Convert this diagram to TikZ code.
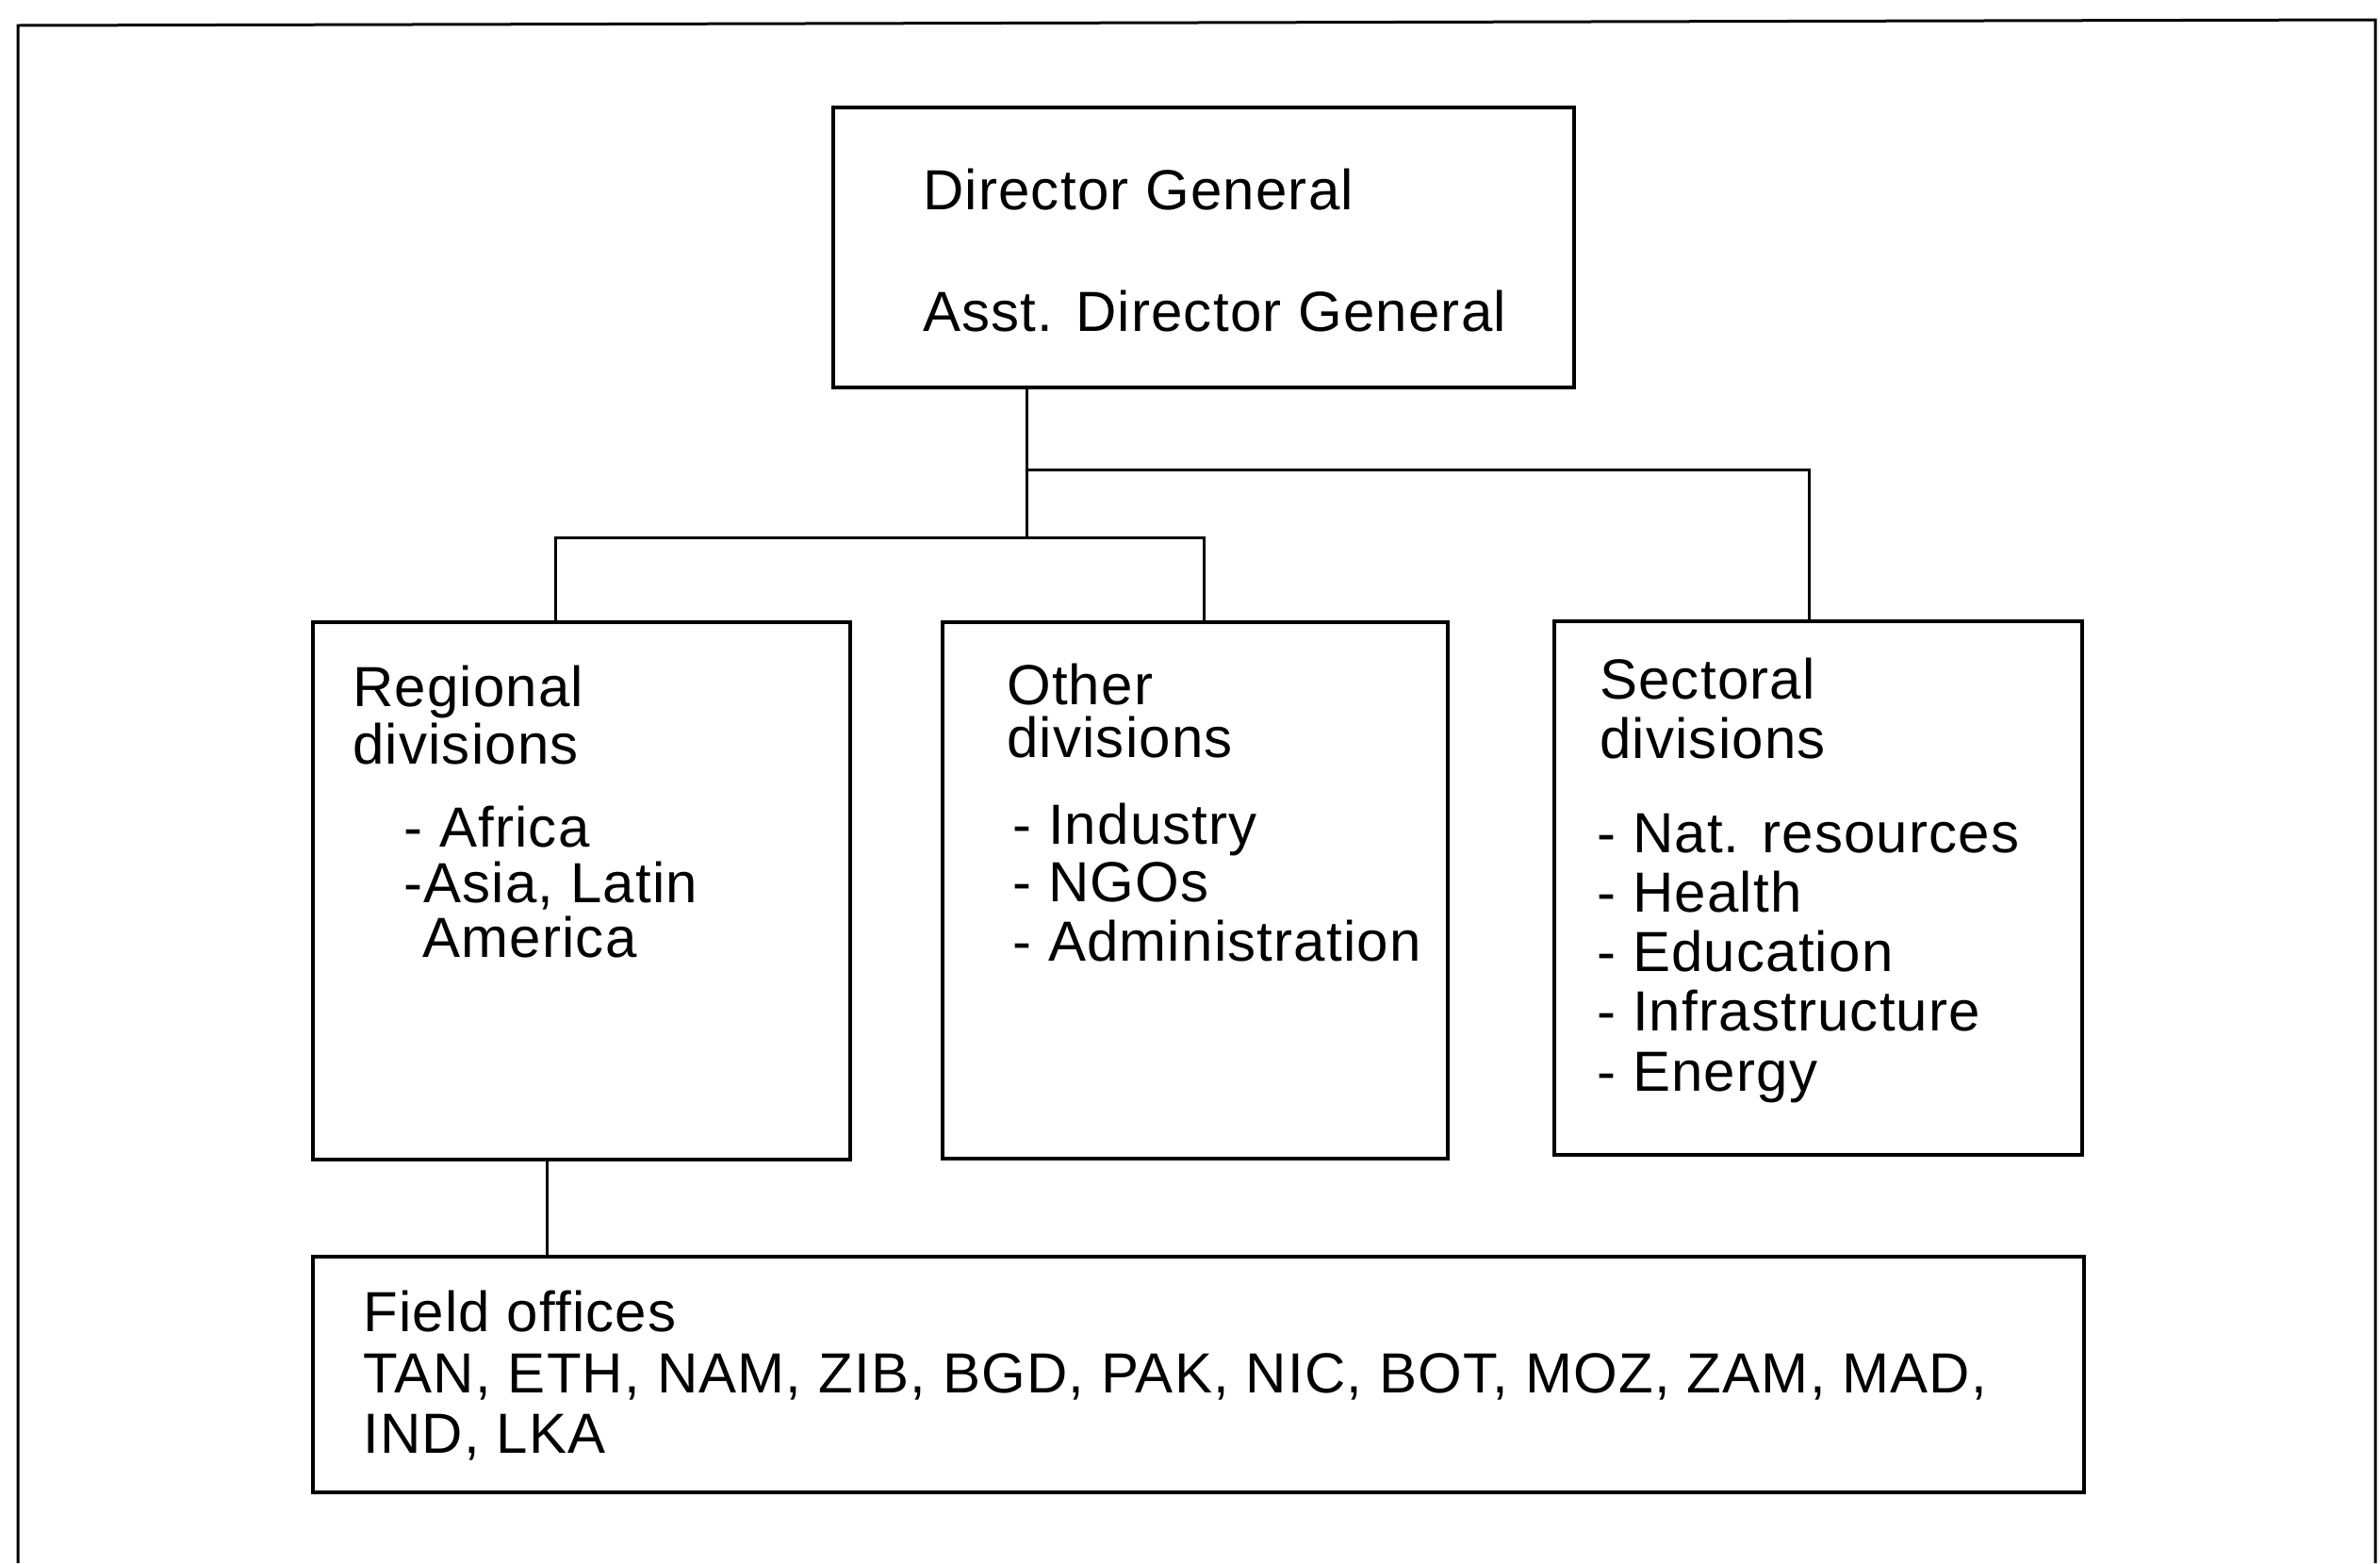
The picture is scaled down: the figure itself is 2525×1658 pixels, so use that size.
\documentclass[tikz,border=0pt]{standalone}
\usepackage{fontspec}
\setmainfont{Liberation Sans}[LetterSpace=2]
\begin{document}
\begin{tikzpicture}[x=1pt,y=-1pt,
  box/.style={draw, line width=3.5pt, inner sep=0pt},
  txt/.style={anchor=base west, inner sep=0pt, font=\fontsize{60}{72}\selectfont},
  link/.style={line width=3pt},
  frameline/.style={line width=3pt}]
\useasboundingbox (0,0) rectangle (2525,1658);

% page frame (open at the bottom)
\draw[frameline] (19,1658) -- (19,27) -- (2520,21) -- (2520,1658);

% boxes
\node[box, minimum width=786pt, minimum height=297pt] (top)  at (1277,262.5) {};
\node[box, minimum width=570pt, minimum height=570pt] (reg)  at (617,945) {};
\node[box, minimum width=536pt, minimum height=569pt] (oth)  at (1268,944.5) {};
\node[box, minimum width=560pt, minimum height=566pt] (sect) at (1929,942) {};
\node[box, minimum width=1879pt, minimum height=250pt] (fld) at (1271.5,1458) {};

% junction points of the connectors
\coordinate (j1) at (1089,498);
\coordinate (j2) at (1089,570);
\coordinate (r1) at (1919,498);
\coordinate (l1) at (589,570);
\coordinate (l2) at (1277,570);
\coordinate (f1) at (580,1280);

% connectors
\draw[link] (top.south -| j2) -- (j2);
\draw[link] (j1) -- (r1) -- (r1 |- sect.north);
\draw[link] (l1 |- reg.north) -- (l1) -- (l2) -- (l2 |- oth.north);
\draw[link] (reg.south -| f1) -- (fld.north -| f1);

% top box
\node[txt] (dg)  at (979,222) {Director General};
\node[txt] (adg) at (979,351) {Asst. Director General};

% regional divisions
\node[txt] (reg1) at (374,749)  {Regional};
\node[txt] (reg2) at (374,810)  {divisions};
\node[txt] (reg3) at (428,898)  {- Africa};
\node[txt] (reg4) at (428,957)  {-Asia, Latin};
\node[txt] (reg5) at (448,1015) {America};

% other divisions
\node[txt] (oth1) at (1068,747)  {Other};
\node[txt] (oth2) at (1068,803)  {divisions};
\node[txt] (oth3) at (1074,895)  {- Industry};
\node[txt] (oth4) at (1074,956)  {- NGOs};
\node[txt] (oth5) at (1074,1019) {- Administration};

% sectoral divisions
\node[txt] (sec1) at (1697,741)  {Sectoral};
\node[txt] (sec2) at (1697,804)  {divisions};
\node[txt] (sec3) at (1694,904)  {- Nat. resources};
\node[txt] (sec4) at (1694,967)  {- Health};
\node[txt] (sec5) at (1694,1030) {- Education};
\node[txt] (sec6) at (1694,1093) {- Infrastructure};
\node[txt] (sec7) at (1694,1157) {- Energy};

% field offices
\node[txt] (fo1) at (385,1412) {Field offices};
\node[txt] (fo2) at (385,1477) {TAN, ETH, NAM, ZIB, BGD, PAK, NIC, BOT, MOZ, ZAM, MAD,};
\node[txt] (fo3) at (385,1541) {IND, LKA};
\end{tikzpicture}
\end{document}
